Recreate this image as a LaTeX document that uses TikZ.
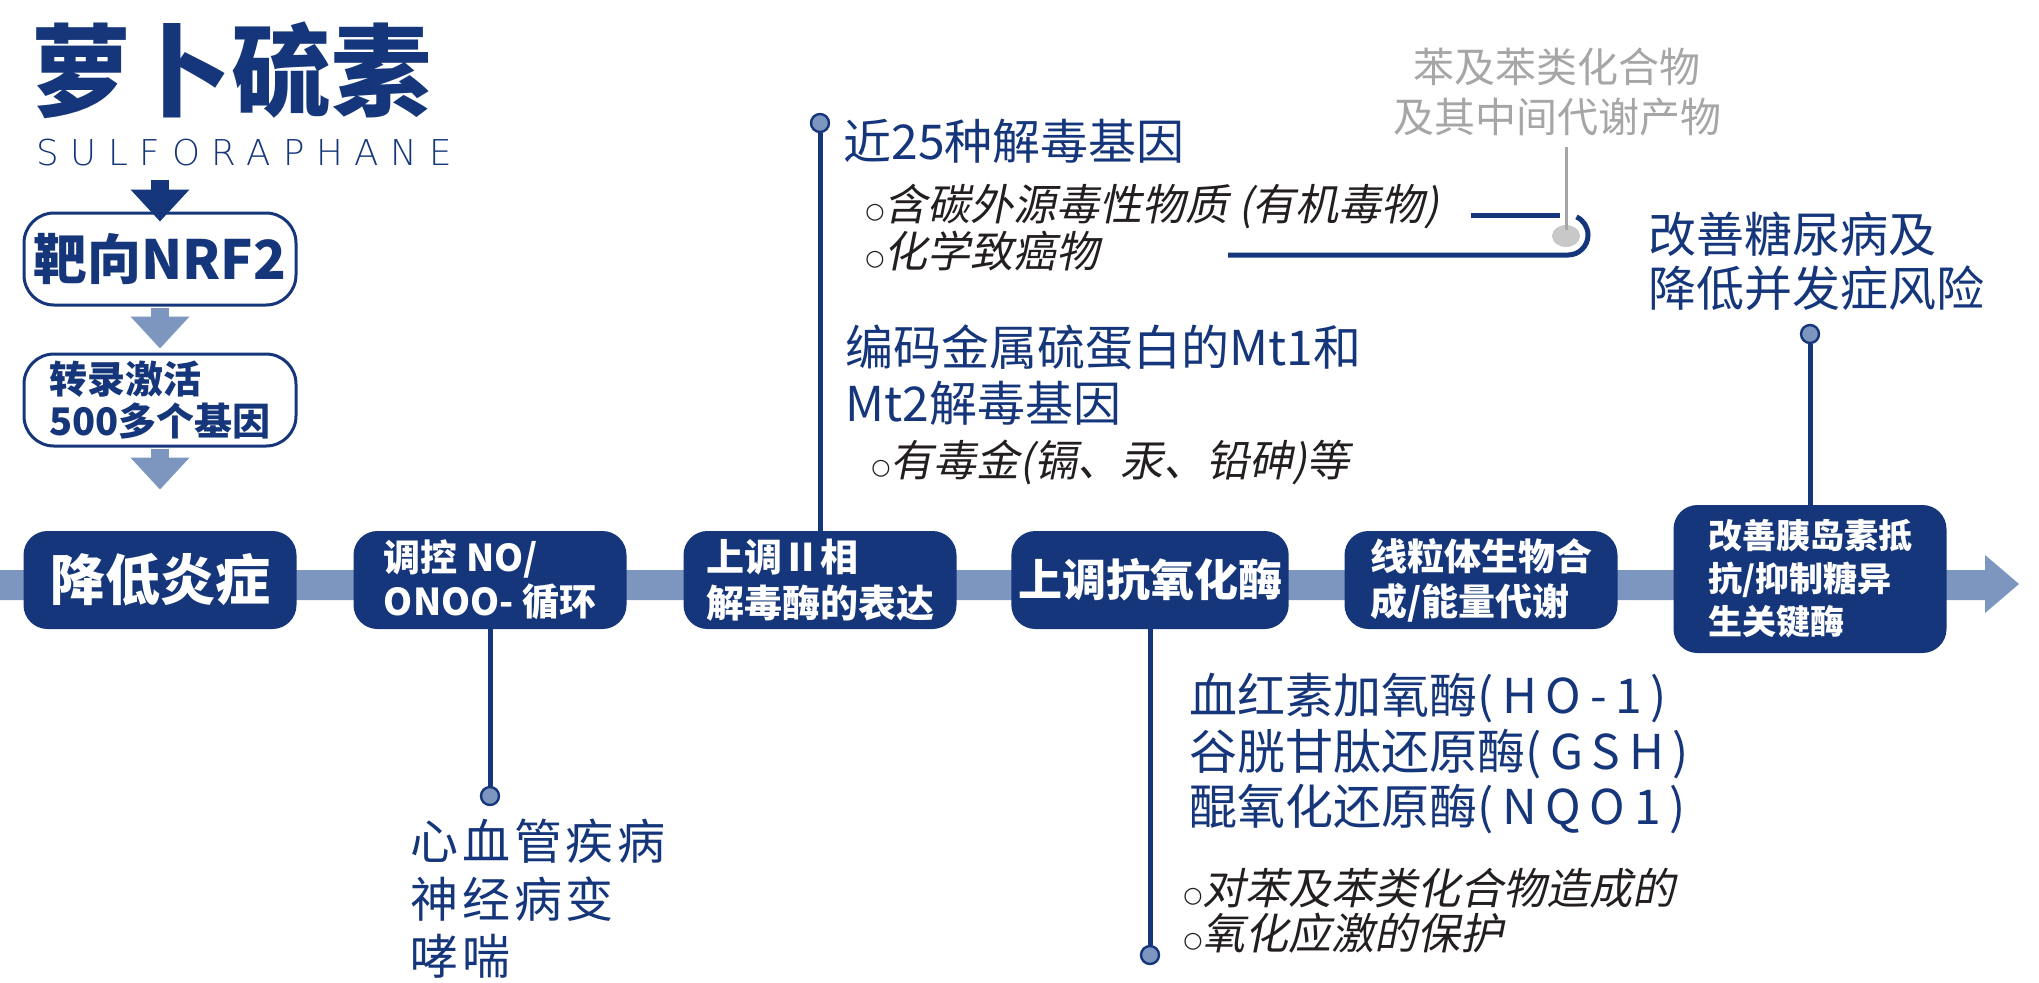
\documentclass[tikz,border=0pt]{standalone}
\usepackage{fontspec}
\setmainfont{Noto Sans CJK SC}
\newfontfamily\cjkit[FakeSlant=0.2]{Noto Sans CJK SC}
\newfontfamily\symb{DejaVu Sans}
\newfontfamily\latin[LetterSpace=33]{DejaVu Sans ExtraLight}
\usepackage{xcolor}
\definecolor{navy}{HTML}{15367A}
\definecolor{steel}{HTML}{7D96BF}
\definecolor{greytxt}{HTML}{A6A6A6}
\definecolor{greydot}{HTML}{C8C8C8}
\definecolor{ink}{HTML}{231F20}
\usepackage{tikz}
\usetikzlibrary{arrows.meta}
\usetikzlibrary{shapes.geometric}
\newcommand{\bul}{{\symb\fontsize{11pt}{11pt}\selectfont\raisebox{1pt}{○}}}
\newcommand{\fsz}[2]{\fontsize{#1}{#2}\selectfont}
\newcommand{\spaced}[1]{{\addfontfeature{LetterSpace=18}#1}}

\begin{document}
\begin{tikzpicture}[x=0.5pt,y=-0.5pt,
    navybox/.style={fill=navy,text=white,rounded corners=12pt,minimum width=136.5pt,minimum height=49pt,align=left},
    whitebox/.style={draw=navy,line width=1.5pt,fill=white,rounded corners=15pt,minimum width=136pt,minimum height=46pt,text=navy,align=left},
    stemline/.style={draw=navy,line width=2.5pt},
    stemdot/.style={circle,draw=navy,line width=1.2pt,fill=steel,minimum size=9pt,inner sep=0pt},
    notetext/.style={text=navy,align=left,inner sep=0pt,anchor=north west},
    itemtext/.style={text=ink,align=left,inner sep=0pt,anchor=north west},
    flowarrow/.style={line width=9pt,-{Triangle[length=16pt,width=28.5pt]}}]
  \useasboundingbox (0,0) rectangle (2039,982);
  \fill[steel] (0,570) -- (1985,570) -- (1985,555) -- (2019,584) -- (1985,613) -- (1985,600) -- (0,600) -- cycle;

  \node[text=navy,font=\bfseries\fsz{50pt}{60pt}] (title) at (232,70) {萝卜硫素};
  \node[text=navy,inner sep=0pt,font=\latin\fsz{17.8pt}{22pt}] (sulfo) at (244,153) {SULFORAPHANE};
  \node[whitebox,font=\bfseries\fsz{27pt}{30pt}] (nrf) at (160,259) {靶向NRF2};
  \node[whitebox,font=\bfseries\fsz{19pt}{21pt}] (act) at (160,400) {转录激活\\500多个基因};

  \node[navybox,font=\bfseries\fsz{27.5pt}{30pt}] (b1) at (160,580) {降低炎症};
  \node[navybox,font=\bfseries\fsz{18.5pt}{22pt}] (b2) at (490,580) {调控 NO/\\ONOO- 循环};
  \node[navybox,font=\bfseries\fsz{19pt}{23pt}] (b3) at (820,580) {上调Ⅱ相\\解毒酶的表达};
  \node[navybox,font=\bfseries\fsz{22pt}{26pt}] (b4) at (1150,580) {上调抗氧化酶};
  \node[navybox,font=\bfseries\fsz{18.5pt}{22.5pt}] (b5) at (1481,580) {线粒体生物合\\成/能量代谢};
  \node[navybox,font=\bfseries\fsz{17pt}{21.5pt},minimum height=74pt] (b6) at (1810,579) {改善胰岛素抵\\抗/抑制糖异\\生关键酶};

  \draw[flowarrow,navy,shorten <=6.5pt,shorten >=-5pt] (nrf.north |- sulfo.south) -- (nrf.north);
  \draw[flowarrow,steel,shorten <=0.75pt,shorten >=2pt] (nrf.south) -- (act.north);
  \draw[flowarrow,steel,shorten <=0.75pt,shorten >=20.5pt] (act.south) -- (b1.north);

  \node[stemdot] (d1) at (490,796) {};
  \node[stemdot] (d2) at (820,123) {};
  \node[stemdot] (d3) at (1150,955) {};
  \node[stemdot] (d4) at (1810,334) {};
  \draw[stemline] (b2) -- (d1);
  \draw[stemline] (b3) -- (d2);
  \draw[stemline] (b4) -- (d3);
  \draw[stemline] (b6) -- (d4);

  \node[notetext,font=\addfontfeature{LetterSpace=8}\fsz{24pt}{28.75pt}] (t1) at (410,819) {心血管疾病\\神经病变\\哮喘};
  \node[notetext,font=\fsz{24pt}{28pt}] (t2) at (843,119) {近25种解毒基因};
  \node[itemtext,font=\cjkit\fsz{21.5pt}{20pt}] (t3) at (865,183.5) {\bul 含碳外源毒性物质 (有机毒物)\\\bul 化学致癌物};
  \node[notetext,font=\fsz{24pt}{28pt}] (t4) at (845,324) {编码金属硫蛋白的Mt1和\\Mt2解毒基因};
  \node[itemtext,font=\cjkit\fsz{21.5pt}{24pt}] (t5) at (871,439.5) {\bul 有毒金(镉、汞、铅砷)等};
  \node[notetext,font=\fsz{24pt}{27.75pt}] (t6) at (1189,673) {血红素加氧酶\spaced{(HO-1)}\\谷胱甘肽还原酶\spaced{(GSH)}\\醌氧化还原酶\spaced{(NQO1)}};
  \node[itemtext,font=\cjkit\fsz{21.5pt}{22.5pt}] (t7) at (1183,867.5) {\bul 对苯及苯类化合物造成的\\\bul 氧化应激的保护};
  \node[notetext,font=\fsz{24pt}{27pt}] (t8) at (1648,212) {改善糖尿病及\\降低并发症风险};
  \node[text=greytxt,align=center,inner sep=0pt,anchor=north,font=\fsz{20.5pt}{25pt}] (t9) at (1557,48) {苯及苯类化合物\\及其中间代谢产物};

  \draw[navy,line width=2.5pt] (1471,215) -- (1560,215);
  \draw[navy,line width=2.5pt] (1228,255) -- (1568,255) arc[start angle=-90,end angle=65,radius=10pt];
  \node[ellipse,fill=greydot,minimum width=14pt,minimum height=11pt,inner sep=0pt] (gdot) at (1566,236) {};
  \draw[greytxt,line width=1.5pt,shorten <=5pt,shorten >=3pt] (t9.south -| gdot) -- (gdot.center);
\end{tikzpicture}
\end{document}
